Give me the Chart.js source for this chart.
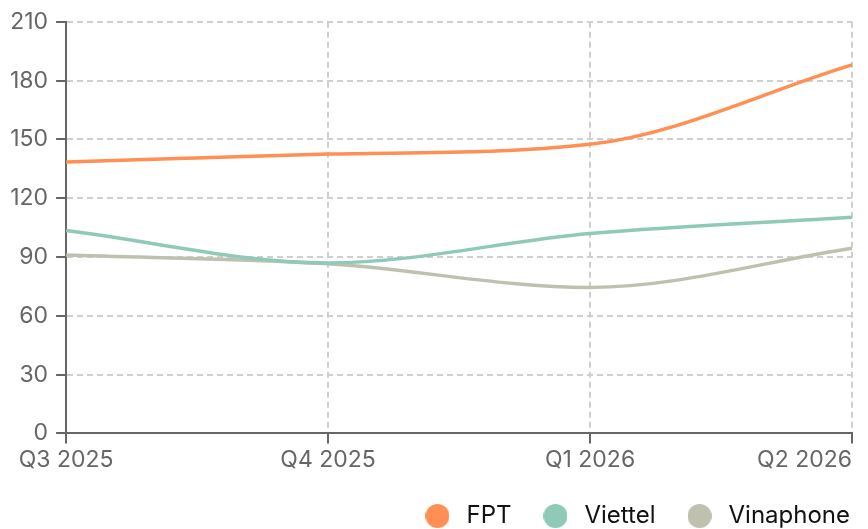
<!DOCTYPE html>
<html>
<head>
<meta charset="utf-8">
<script src="https://cdn.jsdelivr.net/npm/chart.js@4"></script>
<style>
  html, body { margin: 0; padding: 0; background: #fff; }
  #wrap { width: 868px; height: 529px; }
</style>
</head>
<body>
<div id="wrap"><canvas id="chart"></canvas></div>
<script>
const quarters = ['Q3 2025', 'Q4 2025', 'Q1 2026', 'Q2 2026'];
const fpt = [138.5, 142.5, 147.5, 188];
const viettel = [103.5, 87, 102, 110.3];
const vinaphone = [91, 86.5, 74.5, 94.5];

Chart.defaults.font.family = "Inter, sans-serif";
Chart.defaults.font.size = 23;
Chart.defaults.color = '#666';

// small round swatch for the legend
function dot(color) {
    const c = document.createElement('canvas');
    c.width = 24;
    c.height = 24;
    const g = c.getContext('2d');
    g.fillStyle = color;
    g.beginPath();
    g.arc(12, 12, 12, 0, Math.PI * 2);
    g.fill();
    return c;
}

// last x label sits right-aligned against the plot edge
const lastLabelRight = {
    id: 'lastLabelRight',
    beforeDraw(chart) {
        const items = chart.scales.x.getLabelItems(chart.chartArea);
        if (items.length) items[items.length - 1].options.textAlign = 'right';
    }
};

const gridOpts = {
    color: '#cfcfcf',
    lineWidth: 2,
    tickColor: '#666',
    tickBorderDash: [],
    tickLength: 10,
    tickWidth: 2
};

const ctx = document.getElementById('chart').getContext('2d');
const chart = new Chart(ctx, {
    type: 'line',
    data: {
        labels: quarters,
        datasets: [
            { label: 'FPT', data: fpt, borderColor: '#ff8f52', backgroundColor: '#ff8f52', pointStyle: dot('#ff8f52') },
            { label: 'Viettel', data: viettel, borderColor: '#8ecab7', backgroundColor: '#8ecab7', pointStyle: dot('#8ecab7') },
            { label: 'Vinaphone', data: vinaphone, borderColor: '#bfc1ae', backgroundColor: '#bfc1ae', pointStyle: dot('#bfc1ae') }
        ]
    },
    options: {
        responsive: true,
        maintainAspectRatio: false,
        animation: false,
        layout: {
            padding: { top: 6, right: -9, left: 2, bottom: -9 }
        },
        elements: {
            line: { borderWidth: 3.5, cubicInterpolationMode: 'monotone' },
            point: { radius: 0 }
        },
        plugins: {
            legend: {
                position: 'bottom',
                align: 'end',
                labels: {
                    usePointStyle: true,
                    pointStyleWidth: 34,
                    boxHeight: 17,
                    color: '#111',
                    padding: 27,
                    font: { size: 24 }
                }
            },
            tooltip: { enabled: false }
        },
        scales: {
            x: {
                grid: gridOpts,
                border: { color: '#666', width: 2, dash: [6, 4] },
                ticks: { padding: 3, maxRotation: 0 },
                afterFit(scale) { scale.paddingRight = 16; }
            },
            y: {
                min: 0,
                max: 210,
                grid: gridOpts,
                border: { color: '#666', width: 2, dash: [6, 4] },
                ticks: { stepSize: 30, padding: 8 }
            }
        }
    },
    plugins: [lastLabelRight]
});
</script>
</body>
</html>
